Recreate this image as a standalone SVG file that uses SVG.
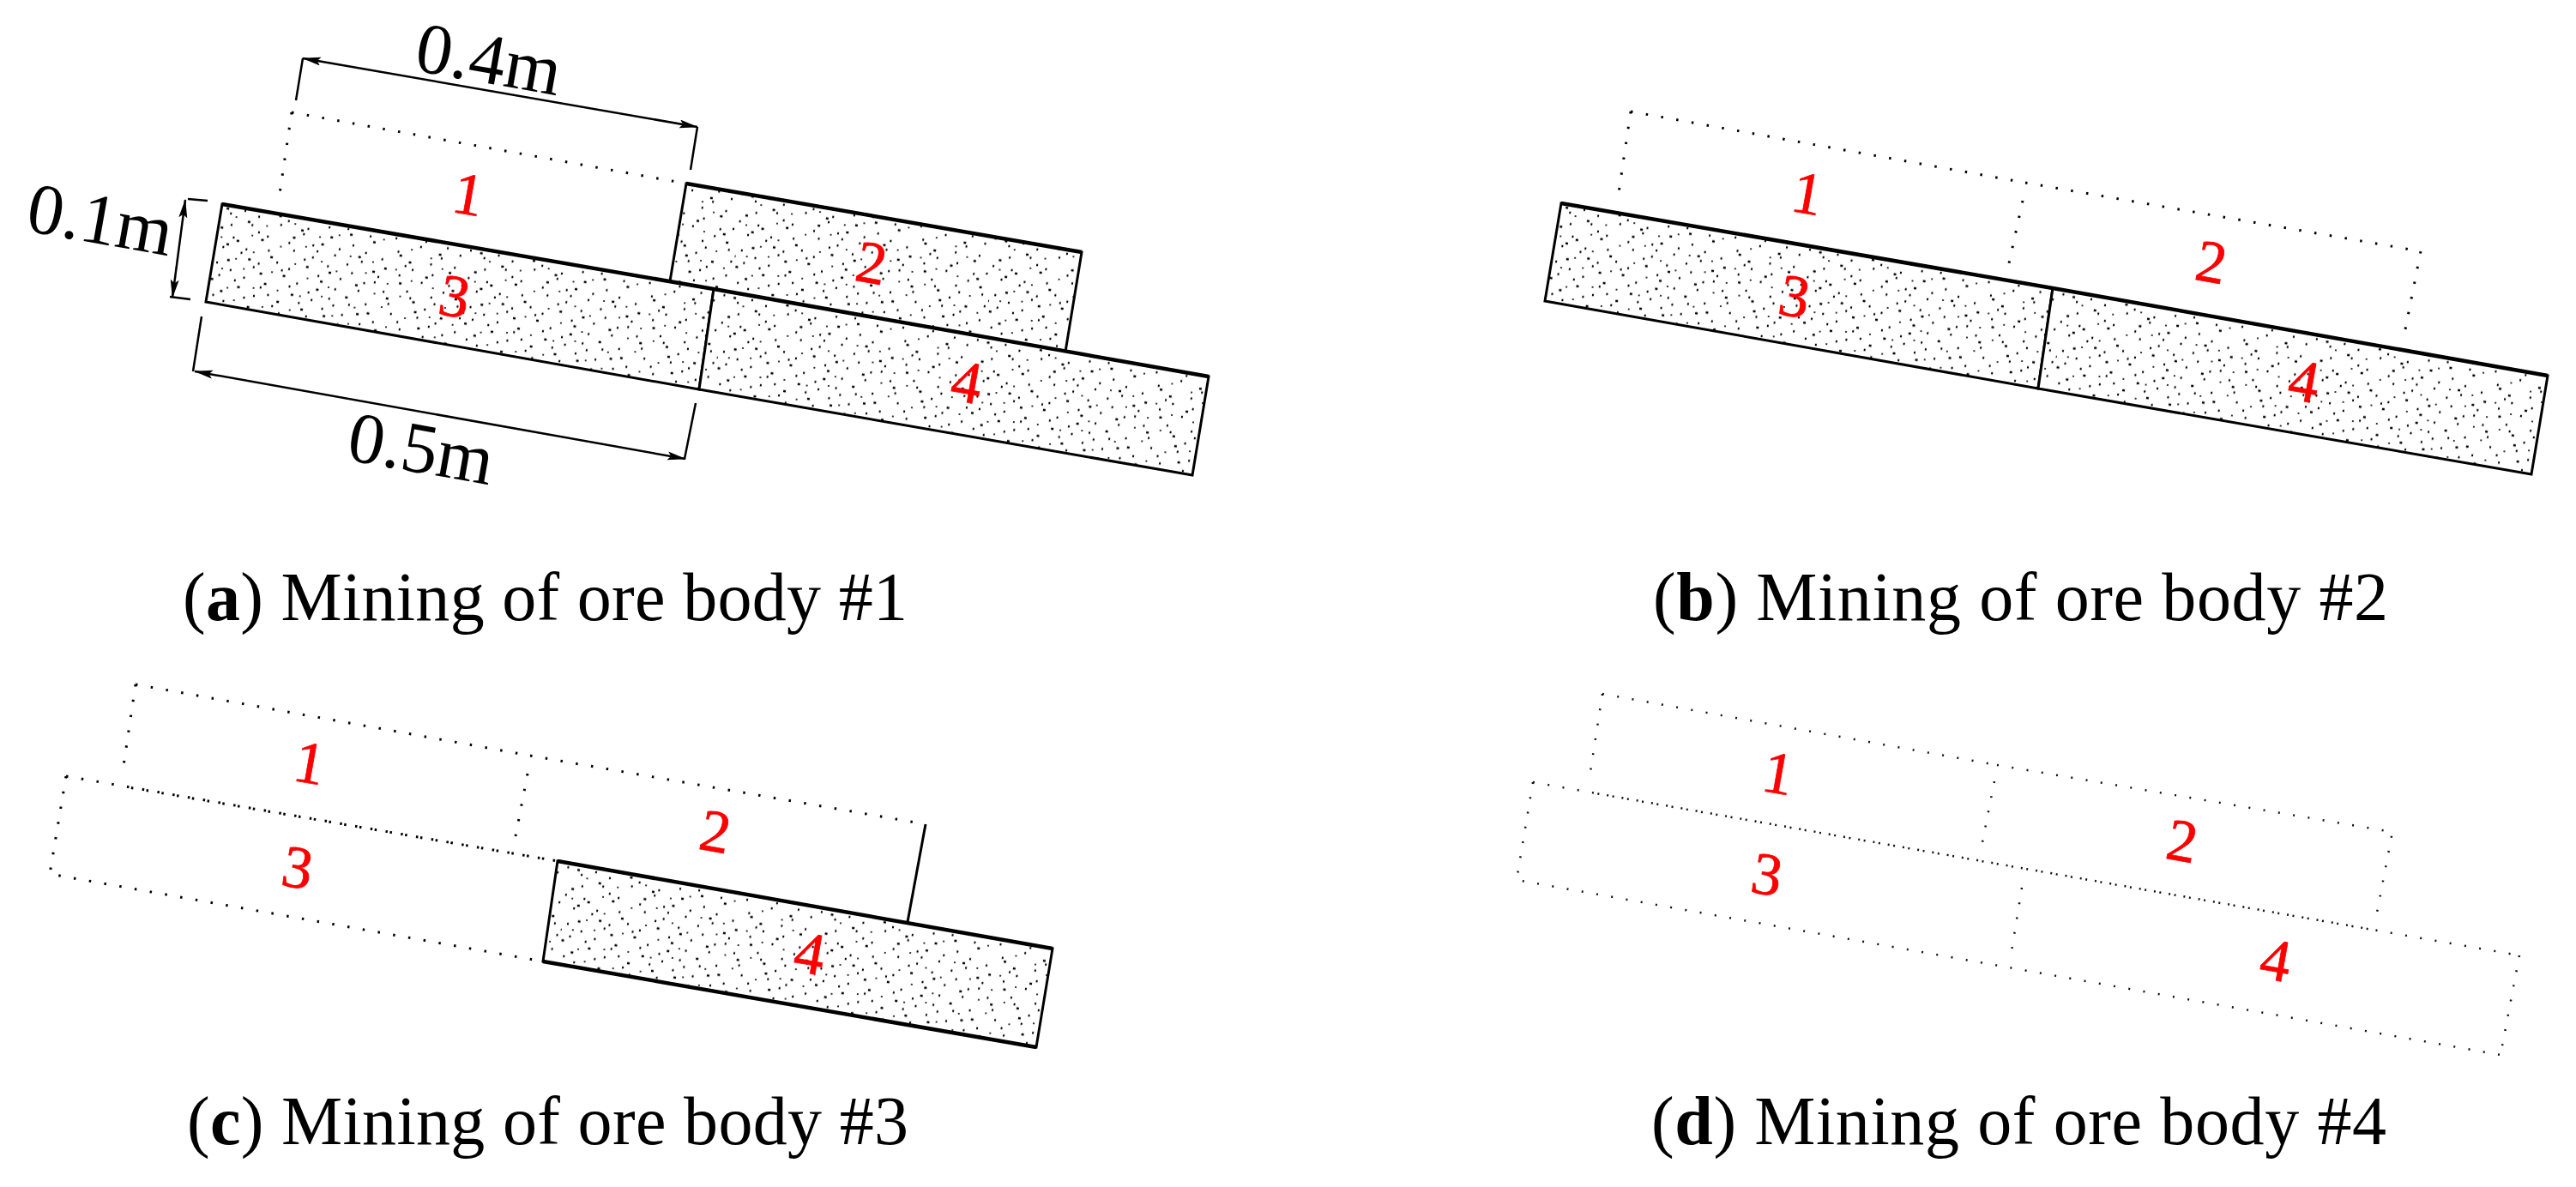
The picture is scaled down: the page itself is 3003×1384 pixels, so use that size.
<svg xmlns="http://www.w3.org/2000/svg" xmlns:xlink="http://www.w3.org/1999/xlink" width="3003" height="1384" viewBox="0 0 3003 1384">
<style>
.bg{fill:#fff}
.ore{fill:url(#stipple);stroke:#000;stroke-width:3;stroke-linejoin:miter}
.top{fill:none;stroke:#000;stroke-width:4.5}
.solid{fill:none;stroke:#000;stroke-width:3}
.dot{fill:none;stroke:#000;stroke-width:3;stroke-dasharray:2.5 15.5}
.dotd{fill:none;stroke:#111;stroke-width:2.5;stroke-dasharray:2 15.5}
.dim{fill:none;stroke:#000;stroke-width:2.5}
.arr{fill:none;stroke:#000;stroke-width:2.5;marker-start:url(#ah);marker-end:url(#ah)}
.num{font-family:"Liberation Serif","Times New Roman",serif;font-size:70px;fill:#f00;stroke:#f00;stroke-width:.8;text-anchor:middle}
.lab{font-family:"Liberation Serif","Times New Roman",serif;font-size:84px;fill:#000;text-anchor:middle}
.cap{font-family:"Liberation Serif","Times New Roman",serif;font-size:80px;fill:#000}
.b{font-weight:bold}
</style>
<defs>
<marker id="ah" markerUnits="userSpaceOnUse" markerWidth="24" markerHeight="12" refX="21" refY="5" orient="auto-start-reverse"><path d="M0 0L22 5L0 10L4 5Z" fill="#000"/></marker>
<pattern id="stipple" patternUnits="userSpaceOnUse" width="300" height="120" patternTransform="translate(259 238) rotate(10)">
<rect width="300" height="120" fill="#fff"/>
<path fill="none" stroke="#000" stroke-width="2.4" d="M6 4h3M11 9h2M27 3h2M33 15h3M38 18h2M44 7h2M68 2h3M71 12h2M79 6h2M96 14h3M99 18h2M103 11h2M127 5h2M131 16h3M149 3h2M153 9h3M158 21h2M176 7h2M181 13h3M206 4h2M211 19h2M214 23h3M236 9h2M241 2h2M259 14h3M262 18h2M267 5h2M283 11h2M294 3h2
M3 27h3M14 22h2M19 36h2M24 39h3M47 25h2M52 33h3M58 28h2M84 31h2M88 24h3M91 39h2M112 29h2M118 35h2M122 26h3M139 36h2M143 28h2M167 33h3M171 38h2M174 27h2M194 31h2M199 41h3M222 34h2M226 29h3M231 37h2M251 27h2M255 39h2M274 33h3M279 26h2M297 35h2
M9 49h2M13 45h3M31 52h2M36 47h2M41 58h3M62 44h2M66 51h3M74 56h2M105 47h2M109 55h3M114 43h2M133 50h2M136 57h3M155 44h2M162 53h2M186 47h3M190 59h2M193 52h2M217 46h2M219 55h3M244 50h2M248 43h3M271 57h2M276 48h2M281 53h3M291 45h2
M5 68h2M17 63h3M22 74h2M48 66h2M53 61h2M57 72h3M81 64h2M84 70h3M89 61h2M101 76h2M124 63h2M128 69h3M146 75h2M150 62h2M169 66h3M173 72h2M178 62h2M202 68h2M207 75h3M229 63h2M234 70h2M238 74h3M258 65h2M263 72h2M286 62h3M290 70h2M299 76h2
M2 88h3M10 82h2M29 85h2M34 92h3M39 80h2M60 88h2M64 83h3M70 95h2M93 81h2M97 90h3M116 84h2M121 92h2M125 79h3M141 87h2M147 94h2M160 82h3M165 90h2M184 86h2M188 96h3M210 81h2M215 92h2M242 85h3M246 91h2M253 80h2M268 94h2M273 87h3M295 83h2
M7 106h2M15 100h3M20 111h2M43 103h2M49 113h3M54 99h2M77 107h2M82 101h3M86 114h2M107 98h2M111 105h3M118 112h2M135 100h2M138 108h3M156 115h2M159 103h2M176 99h3M181 110h2M196 105h2M200 114h3M224 100h2M228 108h2M249 103h3M256 112h2M261 99h2M278 106h2M283 115h3M292 100h2"/>
<path fill="none" stroke="#333" stroke-width="2" d="M18 12h2M55 16h2M87 8h2M118 18h2M140 12h2M192 8h2M226 14h2M250 20h2M5 38h2M40 30h2M75 37h2M104 32h2M157 34h2M184 36h2M212 40h2M265 30h2M26 60h2M45 49h2M95 54h2M125 46h2M144 54h2M178 50h2M205 58h2M232 50h2M258 54h2M12 74h2M37 70h2M70 68h2M112 68h2M138 74h2M192 72h2M222 70h2M276 74h2M22 95h2M52 90h2M80 88h2M107 90h2M132 86h2M172 92h2M203 86h2M232 94h2M260 88h2M288 92h2M32 108h2M66 110h2M98 108h2M148 106h2M168 112h2M212 108h2M240 116h2M270 110h2"/>
</pattern>
</defs>
<rect class="bg" width="3003" height="1384"/>

<g id="panel-a">
<g id="a-body-1"><path class="dot" d="M340 131L800 214M340 131L326 226"/><text class="num" transform="translate(546 227) rotate(10)" y="23">1</text></g>
<g id="a-body-2"><polygon class="ore" points="800,214 1261,294 1242,410 781,328"/><path class="top" d="M800 214L1261 294"/><text class="num" transform="translate(1016 307) rotate(10)" y="23">2</text></g>
<g id="a-body-3"><polygon class="ore" points="259,238 832,337 815,454 240,352"/><path class="top" d="M259 238L832 337"/><text class="num" transform="translate(530 346) rotate(10)" y="23">3</text></g>
<g id="a-body-4"><polygon class="ore" points="832,337 1409,439 1390,554 815,454"/><path class="top" d="M832 337L1409 439"/><text class="num" transform="translate(1127 446) rotate(10)" y="23">4</text></g>
<g id="connectors">
<path class="dim" d="M353 68L345 117M813 148L805 198M219 232L242 234M198 346L222 349M235 369L225 433M811 470L798 535"/>
<path class="arr" d="M353 68L813 148"/>
<path class="arr" d="M216 233L201 347"/>
<path class="arr" d="M227 433L799 535"/>
</g>
<text class="lab" transform="translate(570 69) rotate(10)" y="28">0.4m</text>
<text class="lab" transform="translate(117 256) rotate(10)" y="28">0.1m</text>
<text class="lab" transform="translate(491 523) rotate(10)" y="28">0.5m</text>
<text id="caption-a" class="cap" x="213" y="723" textLength="845">(<tspan class="b">a</tspan>) Mining of ore body #1</text>
</g>

<g id="panel-b">
<g transform="translate(1561 -1)">
<g id="b-body-1"><path class="dot" d="M340 131L800 214M340 131L326 226M797 235L781 308"/><text class="num" transform="translate(546 227) rotate(10)" y="23">1</text></g>
<g id="b-body-2"><path class="dot" d="M800 214L1261 294L1242 390"/><text class="num" transform="translate(1017 307) rotate(10)" y="23">2</text></g>
<g id="b-body-3"><polygon class="ore" points="259,238 832,337 815,454 240,352"/><path class="top" d="M259 238L832 337"/><text class="num" transform="translate(531 347) rotate(10)" y="23">3</text></g>
<g id="b-body-4"><polygon class="ore" points="832,337 1409,439 1390,554 815,454"/><path class="top" d="M832 337L1409 439"/><text class="num" transform="translate(1125 446) rotate(10)" y="23">4</text></g>
</g>
<text id="caption-b" class="cap" x="1927" y="723" textLength="857">(<tspan class="b">b</tspan>) Mining of ore body #2</text>
</g>

<g id="panel-c">
<g transform="translate(-182 667)">
<g id="c-body-1"><path class="dot" d="M340 131L800 214M340 131L326 226M797 235L783 308"/><text class="num" transform="translate(543 223) rotate(10)" y="23">1</text></g>
<g id="c-body-2"><path class="dot" d="M800 214L1261 294"/><path class="solid" d="M1261 294L1240 408"/><text class="num" transform="translate(1016 303) rotate(10)" y="23">2</text></g>
<g id="c-body-3"><path class="dot" d="M259 238L832 337M259 238L240 352L815 454"/><path class="dot" stroke-dashoffset="9" d="M326 250L832 337"/><text class="num" transform="translate(529 345) rotate(10)" y="23">3</text></g>
<g id="c-body-4"><polygon class="ore" points="832,337 1409,439 1390,554 815,454"/><path class="top" d="M832 337L1409 439"/><path class="top" d="M815 454L1390 554"/><text class="num" transform="translate(1126 445) rotate(10)" y="23">4</text></g>
</g>
<text id="caption-c" class="cap" x="218" y="1334" textLength="841">(<tspan class="b">c</tspan>) Mining of ore body #3</text>
</g>

<g id="panel-d">
<g transform="translate(1528 674)">
<g id="d-body-1"><path class="dotd" d="M340 135L800 218M340 135L326 226M797 237L783 308"/><text class="num" transform="translate(545 228) rotate(10)" y="23">1</text></g>
<g id="d-body-2"><path class="dotd" d="M800 218L1261 296L1243 390"/><path class="dotd" stroke-dashoffset="9" d="M326 250L1243 411"/><text class="num" transform="translate(1016 307) rotate(10)" y="23">2</text></g>
<g id="d-body-3"><path class="dotd" d="M259 238L1409 440M259 238L240 352L1387 556"/><text class="num" transform="translate(532 346) rotate(10)" y="23">3</text></g>
<g id="d-body-4"><path class="dotd" d="M829 361L817 435M1409 440L1387 556"/><text class="num" transform="translate(1125 446) rotate(10)" y="23">4</text></g>
</g>
<text id="caption-d" class="cap" x="1925" y="1334" textLength="857">(<tspan class="b">d</tspan>) Mining of ore body #4</text>
</g>
</svg>
